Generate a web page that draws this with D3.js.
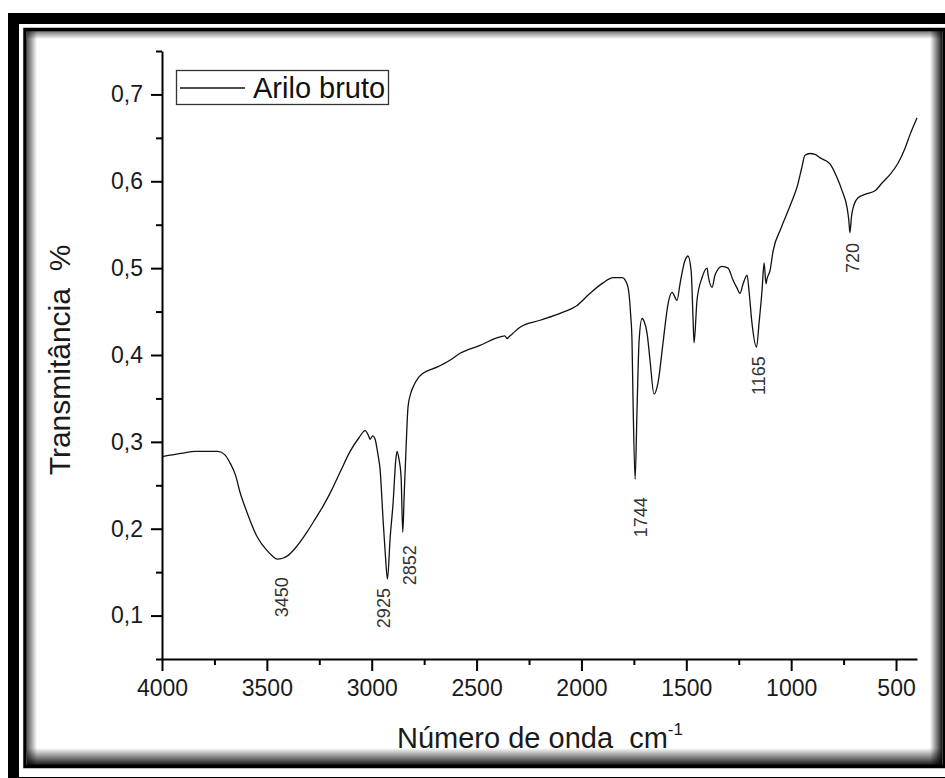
<!DOCTYPE html>
<html>
<head>
<meta charset="utf-8">
<script src="https://cdn.jsdelivr.net/npm/d3@7"></script>
<style>
  html, body { margin: 0; padding: 0; background: #fff; }
  svg { display: block; }
  text { font-family: "Liberation Sans", Arial, sans-serif; }
</style>
</head>
<body>
<svg id="chart" width="945" height="778"></svg>
<script>
// FTIR spectrum of "Arilo bruto": wavenumber (cm-1) vs transmittance
const wavenumber = [
  4000, 3900, 3843, 3733, 3700, 3676, 3650, 3628, 3595, 3547, 3500, 3475, 3450, 3425, 3400,
  3370, 3309, 3270, 3232, 3190, 3151, 3103, 3060, 3032, 3015, 3008, 2995, 2985, 2970, 2960,
  2946, 2935, 2925, 2912, 2898, 2885, 2879, 2870, 2860, 2852, 2845, 2836, 2827, 2815, 2803,
  2780, 2755, 2689, 2627, 2579, 2484, 2388, 2365, 2355, 2345, 2331, 2293, 2197, 2102, 2021,
  1959, 1897, 1849, 1806, 1783, 1773, 1765, 1759, 1754, 1744, 1735, 1725, 1711, 1700, 1687,
  1673, 1654, 1635, 1611, 1587, 1568, 1544, 1530, 1506, 1492, 1477, 1468, 1463, 1449, 1425,
  1401, 1396, 1377, 1363, 1330, 1301, 1277, 1258, 1244, 1229, 1210, 1201, 1187, 1165, 1153,
  1139, 1129, 1120, 1115, 1101, 1086, 1050, 1000, 970, 950, 934, 910, 886, 862,
  815, 781, 757, 733, 725, 720, 712, 705, 681, 648, 600, 567, 528, 490, 457,
  433, 400
];
const transmittance = [
  0.283, 0.287, 0.289, 0.289, 0.285, 0.276, 0.262, 0.242, 0.219, 0.191, 0.175, 0.169, 0.165, 0.166, 0.169,
  0.176, 0.196, 0.211, 0.226, 0.245, 0.265, 0.289, 0.305, 0.313, 0.307, 0.303, 0.307, 0.304, 0.285, 0.268,
  0.211, 0.170, 0.142, 0.190, 0.230, 0.280, 0.289, 0.280, 0.260, 0.196, 0.240, 0.294, 0.340, 0.355, 0.363,
  0.373, 0.379, 0.386, 0.394, 0.402, 0.411, 0.421, 0.422, 0.419, 0.421, 0.424, 0.432, 0.440, 0.448, 0.457,
  0.471, 0.483, 0.489, 0.489, 0.482, 0.470, 0.445, 0.417, 0.348, 0.257, 0.337, 0.417, 0.442, 0.438, 0.425,
  0.394, 0.355, 0.368, 0.414, 0.459, 0.472, 0.463, 0.482, 0.509, 0.514, 0.497, 0.443, 0.414, 0.463, 0.489,
  0.500, 0.492, 0.478, 0.492, 0.502, 0.500, 0.486, 0.477, 0.471, 0.482, 0.492, 0.474, 0.437, 0.409, 0.437,
  0.474, 0.506, 0.482, 0.488, 0.497, 0.520, 0.545, 0.575, 0.595, 0.615, 0.630, 0.632, 0.631, 0.627,
  0.620, 0.604, 0.589, 0.569, 0.555, 0.541, 0.560, 0.569, 0.581, 0.585, 0.589, 0.598, 0.608, 0.621, 0.638,
  0.654, 0.673
];

// Annotated absorption bands
const peakWavenumbers = [3450, 2925, 2852, 1744, 1165, 720];
const peakLabels = ["3450", "2925", "2852", "1744", "1165", "720"];

// Axis ticks
const xMajorTicks = [4000, 3500, 3000, 2500, 2000, 1500, 1000, 500];
const xMinorTicks = [3750, 3250, 2750, 2250, 1750, 1250, 750];
const yMajorTicks = [0.1, 0.2, 0.3, 0.4, 0.5, 0.6, 0.7];
const yMinorTicks = [0.05, 0.15, 0.25, 0.35, 0.45, 0.55, 0.65, 0.75];

const seriesName = "Arilo bruto";
const xTitle = "Número de onda  cm";
const xTitleSup = "-1";
const yTitle = "Transmitância  %";

// ---- layout ----
const W = 945, H = 778;
const plot = { left: 162, right: 917, top: 51, bottom: 659 };
// per-label nudges (px) relative to the band minimum: [dx, gap below]
const labelNudge = [[4.5, 18], [-3.5, 9], [7, 13], [5, 18], [1.5, 9], [3, 10.5]];

const svg = d3.select("#chart");

// ---- frame ----
const defs = svg.append("defs");
function grad(id, x1, y1, x2, y2, o1, o2) {
  const g = defs.append("linearGradient").attr("id", id)
    .attr("x1", x1).attr("y1", y1).attr("x2", x2).attr("y2", y2);
  g.append("stop").attr("offset", "0%").attr("stop-color", "#000").attr("stop-opacity", o1);
  g.append("stop").attr("offset", "100%").attr("stop-color", "#000").attr("stop-opacity", o2);
}
grad("shTop", 0, 0, 0, 1, 0.55, 0);
grad("shLeft", 0, 0, 1, 0, 0.65, 0);
grad("shRight", 0, 0, 1, 0, 0, 0.9);
grad("shBottom", 0, 0, 0, 1, 0, 0.9);

svg.append("rect").attr("width", W).attr("height", H).attr("fill", "#fff");
// inner shadow strips
svg.append("rect").attr("x", 27).attr("y", 31).attr("width", 915).attr("height", 8).attr("fill", "url(#shTop)");
svg.append("rect").attr("x", 27).attr("y", 31).attr("width", 10).attr("height", 734).attr("fill", "url(#shLeft)");
svg.append("rect").attr("x", 930).attr("y", 31).attr("width", 12).attr("height", 734).attr("fill", "url(#shRight)");
svg.append("rect").attr("x", 27).attr("y", 748).attr("width", 915).attr("height", 17).attr("fill", "url(#shBottom)");
// double black border
svg.append("rect").attr("x", 13.5).attr("y", 18.5).attr("width", 940).attr("height", 764)
  .attr("fill", "none").attr("stroke", "#000").attr("stroke-width", 11);
svg.append("rect").attr("x", 25).attr("y", 29.5).attr("width", 919).attr("height", 737)
  .attr("fill", "none").attr("stroke", "#000").attr("stroke-width", 3.5);

// ---- scales ----
const x = d3.scaleLinear().domain([4000, 400]).range([plot.left, plot.right]);
const y = d3.scaleLinear().domain([0.05, 0.75]).range([plot.bottom, plot.top]);
const fmt = d3.formatLocale({ decimal: ",", thousands: "", grouping: [3], currency: ["", ""] }).format(".1f");

const tickFont = 23;

// x axis
svg.append("g").attr("transform", `translate(0,${plot.bottom})`)
  .call(d3.axisBottom(x).tickValues(xMajorTicks).tickSize(12).tickPadding(9).tickSizeOuter(0).tickFormat(d3.format("d")));
svg.append("g").attr("transform", `translate(0,${plot.bottom})`)
  .call(d3.axisBottom(x).tickValues(xMinorTicks).tickSize(6).tickSizeOuter(0).tickFormat(""))
  .call(g => g.select(".domain").remove());

// y axis
svg.append("g").attr("transform", `translate(${plot.left},0)`)
  .call(d3.axisLeft(y).tickValues(yMajorTicks).tickSize(11).tickPadding(8).tickSizeOuter(0).tickFormat(fmt));
svg.append("g").attr("transform", `translate(${plot.left},0)`)
  .call(d3.axisLeft(y).tickValues(yMinorTicks).tickSize(6).tickSizeOuter(0).tickFormat(""))
  .call(g => g.select(".domain").remove());

svg.selectAll(".domain").attr("stroke", "#000").attr("stroke-width", 2);
svg.selectAll(".tick line").attr("stroke", "#000").attr("stroke-width", 2);
svg.selectAll(".tick text").attr("fill", "#1a1a1a")
  .style("font-size", tickFont + "px").style("font-family", '"Liberation Sans", Arial, sans-serif');

// ---- spectrum ----
const data = wavenumber.map((w, i) => ({ w, t: transmittance[i] }));
svg.append("path").datum(data)
  .attr("fill", "none").attr("stroke", "#111").attr("stroke-width", 1.3)
  .attr("stroke-linejoin", "round")
  .attr("d", d3.line().x(d => x(d.w)).y(d => y(d.t)).curve(d3.curveMonotoneX));

// ---- band labels ----
peakWavenumbers.forEach((pw, i) => {
  const idx = wavenumber.indexOf(pw);
  const px = x(pw) + labelNudge[i][0];
  const py = y(transmittance[idx]) + labelNudge[i][1];
  svg.append("text")
    .attr("transform", `translate(${px + 6.5},${py}) rotate(-90)`)
    .attr("text-anchor", "end")
    .attr("fill", "#333")
    .style("font-size", "18px")
    .text(peakLabels[i]);
});

// ---- axis titles ----
const xt = svg.append("text").attr("x", 397).attr("y", 748)
  .attr("fill", "#1a1a1a").style("font-size", "29px").style("white-space", "pre");
xt.append("tspan").text(xTitle);
xt.append("tspan").attr("dy", -13).style("font-size", "17px").text(xTitleSup);

svg.append("text")
  .attr("transform", `translate(70,360) rotate(-90)`)
  .attr("text-anchor", "middle").attr("fill", "#1a1a1a")
  .style("font-size", "30px").style("white-space", "pre")
  .text(yTitle);

// ---- legend ----
const lg = svg.append("g");
lg.append("rect").attr("x", 176.5).attr("y", 70.5).attr("width", 212).attr("height", 34)
  .attr("fill", "#fff").attr("stroke", "#333").attr("stroke-width", 1.3);
lg.append("line").attr("x1", 180).attr("x2", 245).attr("y1", 88).attr("y2", 88)
  .attr("stroke", "#111").attr("stroke-width", 1.3);
lg.append("text").attr("x", 253).attr("y", 98).attr("fill", "#111")
  .style("font-size", "29px").text(seriesName);
</script>
</body>
</html>
